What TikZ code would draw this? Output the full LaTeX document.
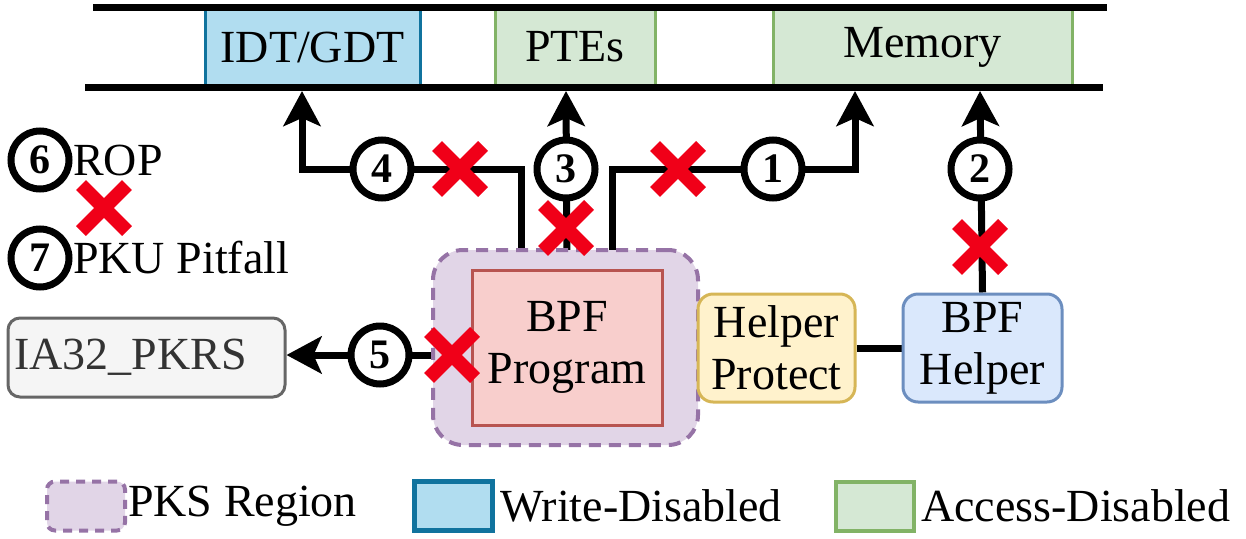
\documentclass[tikz,border=0pt]{standalone}
\usepackage{fontspec}
\setmainfont{Liberation Serif}
\usetikzlibrary{arrows.meta,shapes.misc,backgrounds}

\definecolor{wdfill}{HTML}{B1DDF0}
\definecolor{wdline}{HTML}{10739E}
\definecolor{adfill}{HTML}{D5E8D4}
\definecolor{adline}{HTML}{82B366}
\definecolor{pksfill}{HTML}{E1D5E7}
\definecolor{pksline}{HTML}{9673A6}
\definecolor{progfill}{HTML}{F8CECC}
\definecolor{progline}{HTML}{B85450}
\definecolor{hpfill}{HTML}{FFF2CC}
\definecolor{hpline}{HTML}{D6B656}
\definecolor{bhfill}{HTML}{DAE8FC}
\definecolor{bhline}{HTML}{6C8EBF}
\definecolor{pkfill}{HTML}{F5F5F5}
\definecolor{pkline}{HTML}{666666}
\definecolor{pktext}{HTML}{333333}
\definecolor{xred}{HTML}{F00018}

\begin{document}
\begin{tikzpicture}[x=1pt,y=-1pt,
 txt/.style={font=\rmfamily\fontsize{46}{52}\selectfont},
 box/.style={txt, draw, line width=3pt, inner sep=0pt, align=center},
 num/.style={circle, draw, line width=7pt, fill=white, minimum size=58pt, inner sep=0pt, font=\rmfamily\fontsize{42}{42}\selectfont\bfseries},
 xmark/.style={cross out, draw=xred, line width=14pt, minimum size=32pt, inner sep=0pt},
 conn/.style={line width=7pt},
 arr/.style={conn, -{Stealth[length=35pt, width=37pt, inset=8pt]}},
 bar/.style={line width=7pt},
 wd/.style={box, fill=wdfill, draw=wdline},
 ad/.style={box, fill=adfill, draw=adline},
 legbox/.style={minimum width=78pt, minimum height=49pt, line width=5pt},
]
\useasboundingbox (0,0) rectangle (1246,538);

% top memory strip
\node[wd, minimum width=215pt, minimum height=78pt] (idt) at (312.5,47) {IDT/GDT};
\node[ad, minimum width=160pt, minimum height=78pt] (pte) at (575,47) {PTEs};
\node[ad, minimum width=299pt, minimum height=78pt] (mem) at (922.5,47) {Memory};
\draw[bar] (93,7) -- (1107,7);
\draw[bar] (85,87) -- (1103,87);
\coordinate (t4) at (302,91);
\coordinate (t3) at (566,91);
\coordinate (t1) at (855,91);
\coordinate (t2) at (980,91);

% PKS region and boxes
\node[draw=pksline, fill=pksfill, line width=4pt, dash pattern=on 12pt off 8pt, rounded corners=30pt, minimum width=265pt, minimum height=195pt] (pks) at (565.5,347.5) {};
\node[box, fill=progfill, draw=progline, minimum width=190pt, minimum height=155pt] (prog) at (567,347.5) {BPF\\Program};
\node[box, fill=hpfill, draw=hpline, rounded corners=15pt, minimum width=157pt, minimum height=108pt] (hp) at (776.5,348) {Helper\\Protect};
\node[box, fill=bhfill, draw=bhline, rounded corners=15pt, minimum width=159pt, minimum height=108pt] (bh) at (982.5,348) {BPF\\Helper};
\node[box, fill=pkfill, draw=pkline, text=pktext, rounded corners=12pt, minimum width=277pt, minimum height=79pt, text width=265pt, align=left, inner sep=6pt] (pkrs) at (146.5,357.5) {IA32\_PKRS};

% numbered circles
\node[num] (c4) at (382,169) {4};
\node[num] (c3) at (566,169) {3};
\node[num] (c1) at (773,169) {1};
\node[num] (c2) at (980,169) {2};
\node[num] (c5) at (380,355) {5};

% connectors
\begin{pgfonlayer}{background}
\draw[arr] ([xshift=-46pt]prog.north) |- (c4.center) -| (t4);
\draw[arr] (prog.north) -- (t3);
\draw[arr] ([xshift=45pt]prog.north) |- (c1.center) -| (t1);
\draw[arr] (bh.north) -- (t2);
\draw[arr] (prog.west |- c5) -- (pkrs.east |- c5);
\draw[conn] (prog.east |- hp) -- (hp.west);
\draw[conn] (hp.east) -- (bh.west);
\end{pgfonlayer}

% red crosses
\node[xmark] (x4) at (460,169) {};
\node[xmark] (x3) at (566,228) {};
\node[xmark] (x1) at (678,169) {};
\node[xmark] (x2) at (980,247) {};
\node[xmark] (x5) at (452,355) {};

% side legend
\node[num] (c6) at (40,160) {6};
\node[txt, anchor=west, inner sep=0pt] (rop) at (73,160) {ROP};
\node[xmark] (x6) at (104,208) {};
\node[num] (c7) at (40,258) {7};
\node[txt, anchor=west, inner sep=0pt] (pku) at (73,258) {PKU Pitfall};

% bottom legend
\node[legbox, draw=pksline, fill=pksfill, line width=4pt, dash pattern=on 9pt off 7pt, rounded corners=8pt] (lpks) at (86,506) {};
\node[txt, anchor=west, inner sep=0pt] (lpkst) at (128,506) {PKS Region};
\node[legbox, fill=wdfill, draw=wdline] (lwd) at (453,506) {};
\node[txt, anchor=west, inner sep=0pt] (lwdt) at (500,506) {Write-Disabled};
\node[legbox, fill=adfill, draw=adline, line width=4pt] (lad) at (875,506) {};
\node[txt, anchor=west, inner sep=0pt] (ladt) at (921,506) {Access-Disabled};
\end{tikzpicture}
\end{document}
